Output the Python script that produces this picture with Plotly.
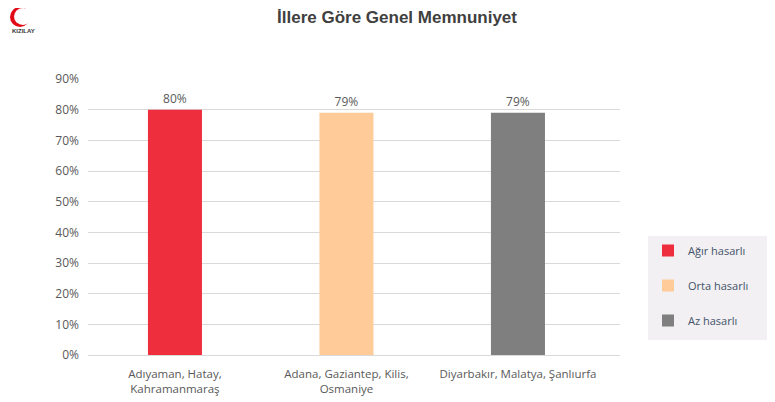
import plotly.graph_objects as go

categories = ["Adıyaman, Hatay,<br>Kahramanmaraş", "Adana, Gaziantep, Kilis,<br>Osmaniye", "Diyarbakır, Malatya, Şanlıurfa"]
series_names = ["Ağır hasarlı", "Orta hasarlı", "Az hasarlı"]
values = [0.80, 0.79, 0.79]
labels = ["80%", "79%", "79%"]
colors = ["#EE2E3C", "#FFCC99", "#7F7F7F"]
y_ticks = [0, 0.1, 0.2, 0.3, 0.4, 0.5, 0.6, 0.7, 0.8, 0.9]
x_pos = [0, 1, 2]

fig = go.Figure()
for i in range(3):
    fig.add_trace(go.Bar(
        x=[x_pos[i]], y=[values[i]], name=series_names[i],
        marker=dict(color=colors[i], line=dict(width=0)),
        text=[labels[i]], textposition="outside",
        textfont=dict(color="#595959", size=12, family="Open Sans"),
        width=0.315, legendgroup=series_names[i], cliponaxis=False,
    ))

OFF = 8  # page body margin
W, H = 775 - OFF, 402 - OFF
L, R, T, B = 80, 155, 71, 47
pw, ph = W - L - R, H - T - B
def px(x): return (x - OFF - L) / pw
def py(y): return (H - B - (y - OFF)) / ph

shapes = [
    # legend panel background
    dict(type="rect", xref="paper", yref="paper", x0=px(648), x1=px(775), y0=py(340), y1=py(236),
         fillcolor="#F2F0F2", line=dict(width=0), layer="below"),
    # logo crescent
    dict(type="circle", xref="paper", yref="paper", x0=px(10), x1=px(30), y0=py(27), y1=py(7),
         fillcolor="#E30A17", line=dict(width=0), layer="above"),
    dict(type="circle", xref="paper", yref="paper", x0=px(14), x1=px(32), y0=py(25), y1=py(8),
         fillcolor="white", line=dict(width=0), layer="above"),
]

fig.update_layout(
    width=W, height=H,
    margin=dict(l=L, r=R, t=T, b=B, autoexpand=False),
    plot_bgcolor="white", paper_bgcolor="white",
    barmode="overlay",
    font=dict(family="Open Sans", color="#595959", size=12),
    title=dict(text="<b>İllere Göre Genel Memnuniyet</b>", x=(397 - OFF) / W, xanchor="center",
               y=1 - (17 - OFF) / H, yanchor="middle",
               font=dict(family="Liberation Sans", size=17, color="#404040")),
    xaxis=dict(range=[-0.507, 2.595], tickvals=x_pos, ticktext=categories,
               showgrid=False, showline=True, linecolor="#D9D9D9", linewidth=1,
               zeroline=False, ticks="", tickfont=dict(size=11.5, color="#595959"),
               ticklabelstandoff=8),
    yaxis=dict(range=[0, 0.9], tickvals=y_ticks, tickformat=".0%", showgrid=True,
               gridcolor="#D9D9D9", gridwidth=1, zeroline=False, ticks="",
               tickfont=dict(size=12, color="#595959"), ticklabelstandoff=8),
    showlegend=True,
    legend=dict(x=px(648), xanchor="left", y=py(236), yanchor="top",
                bgcolor="rgba(0,0,0,0)", borderwidth=0, traceorder="grouped",
                tracegroupgap=16, font=dict(size=11, color="#44546A", family="Open Sans"),
                itemwidth=30),
    shapes=shapes,
    annotations=[
        dict(text="<b>KIZILAY</b>", xref="paper", yref="paper", x=px(10), y=py(31),
             showarrow=False, font=dict(size=6, color="#333333", family="Liberation Sans"),
             xanchor="left", yanchor="middle"),
    ],
)

fig.write_html("out.html")
